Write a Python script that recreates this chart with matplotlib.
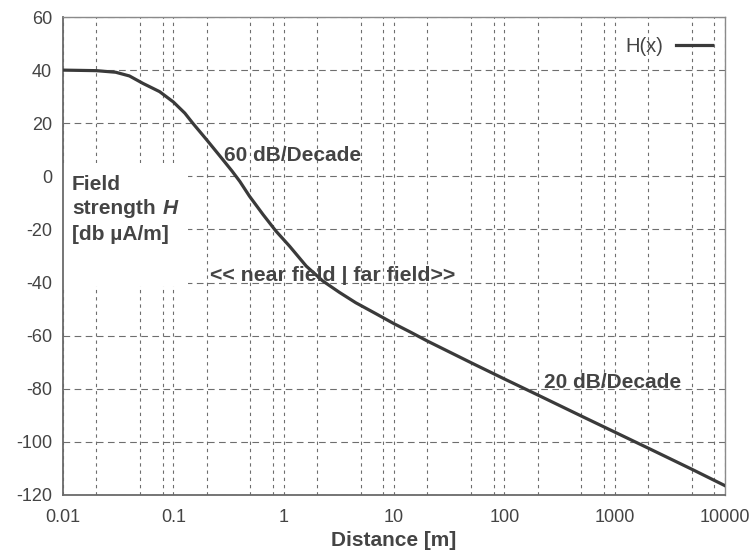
import matplotlib.pyplot as plt
from matplotlib.patches import Rectangle
from matplotlib.ticker import FixedLocator, NullFormatter

plt.rcParams["font.family"] = ["Liberation Sans", "DejaVu Sans"]
plt.rcParams["axes.unicode_minus"] = False

# values
distance = [0.01, 0.02, 0.03, 0.04, 0.053, 0.075, 0.1, 0.127, 0.15, 0.2,
            0.26, 0.34, 0.4, 0.49, 0.65, 0.85, 1.13, 1.6, 2.26, 3.2, 4.5,
            6.9, 10, 14, 20, 50, 100, 200, 500, 1000, 2000, 5000, 10000]
field = [40.0, 39.8, 39.2, 37.8, 35.0, 31.9, 28.0, 23.8, 20.0, 13.8,
         8.0, 2.0, -1.9, -7.5, -14.4, -20.6, -26.3, -33.8, -39.4, -43.7,
         -47.6, -51.8, -55.5, -58.6, -62.0, -70.2, -76.3, -82.3, -90.3,
         -96.3, -102.3, -110.3, -116.5]

xticks = [0.01, 0.1, 1, 10, 100, 1000, 10000]
xtick_labels = ["0.01", "0.1", "1", "10", "100", "1000", "10000"]
yticks = [-120, -100, -80, -60, -40, -20, 0, 20, 40, 60]

txt = "#444444"
grey = "#6e6e6e"

fig = plt.figure(figsize=(7.54, 5.54), dpi=100)
ax = fig.add_axes([0.0836, 0.1065, 0.878, 0.8628])

ax.plot(distance, field, color="#3a3a3a", lw=2.3, label="H(x)", zorder=3,
        solid_joinstyle="round")

ax.set_xscale("log")
ax.set_xlim(0.01, 10000)
ax.set_ylim(-120, 60)
ax.set_yticks(yticks)
ax.set_xticks(xticks)
ax.set_xticklabels(xtick_labels)
# grid lines at 2, 5 and 8 in every decade
minor = [m * d for d in xticks[:-1] for m in (2, 5, 8)]
ax.xaxis.set_minor_locator(FixedLocator(minor))
ax.xaxis.set_minor_formatter(NullFormatter())
ax.tick_params(axis="both", which="both", length=0, labelsize=13,
               labelcolor=txt)
ax.tick_params(axis="x", pad=10)
ax.tick_params(axis="y", pad=8)

ax.set_axisbelow(True)
ax.grid(True, axis="x", which="both", color=grey, lw=0.8, ls=(0, (3, 3.5)))
ax.grid(True, axis="y", which="major", color=grey, lw=0.8, ls=(0, (6, 4)))

for s in ["left", "bottom"]:
    ax.spines[s].set_color("#6a6a6a")
    ax.spines[s].set_linewidth(1.3)
for s in ["top", "right"]:
    ax.spines[s].set_color("#8a8a8a")
    ax.spines[s].set_linewidth(1.0)

ax.set_xlabel("Distance [m]", fontsize=15, fontweight="bold", color=txt,
              labelpad=4)

# white block behind the y label text
ax.add_patch(Rectangle((0, 0.437), 0.189, 0.258, transform=ax.transAxes,
                       facecolor="white", edgecolor="none", zorder=1))
ax.text(0.0136, 0.638, "Field", transform=ax.transAxes, fontsize=15,
        fontweight="bold", color=txt, va="baseline", zorder=4)
t2 = ax.text(0.0136, 0.588, "strength", transform=ax.transAxes, fontsize=15,
             fontweight="bold", color=txt, va="baseline", zorder=4)
ax.annotate("H", xy=(1, 0), xycoords=t2, xytext=(5, 0),
            textcoords="offset points", fontsize=15, fontweight="bold",
            style="italic", color=txt, va="bottom", ha="left", zorder=4)
ax.text(0.0136, 0.533, "[db µA/m]", transform=ax.transAxes, fontsize=15,
        fontweight="bold", color=txt, va="baseline", zorder=4)

ax.text(0.29, 8, "60 dB/Decade", fontsize=15, fontweight="bold", color=txt,
        va="center", ha="left", zorder=4)
ax.text(0.213, -37.5, "<< near field | far field>>", fontsize=15.3,
        fontweight="bold", color=txt, va="center", ha="left", zorder=4)
ax.text(228, -77.8, "20 dB/Decade", fontsize=15, fontweight="bold",
        color=txt, va="center", ha="left", zorder=4)

leg = ax.legend(loc="center right", bbox_to_anchor=(0.98, 0.939),
                frameon=False, markerfirst=False, handlelength=1.8,
                handletextpad=0.6, borderpad=0, borderaxespad=0,
                fontsize=14.5)
for t in leg.get_texts():
    t.set_color(txt)

fig.savefig("out.png", dpi=100)
